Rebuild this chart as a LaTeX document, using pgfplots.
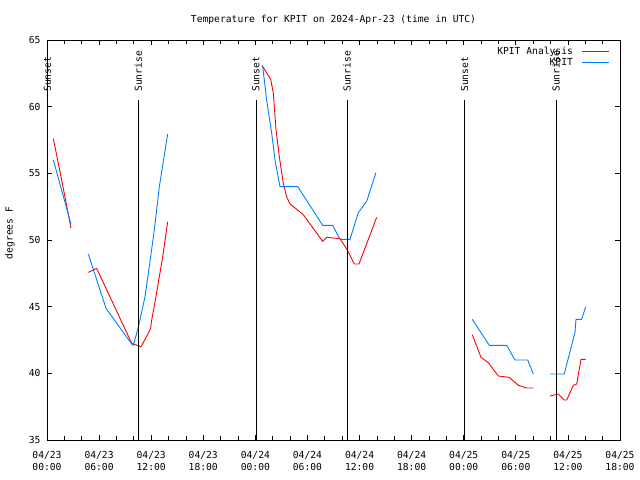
\documentclass[border=0pt]{standalone}
\usepackage{pgfplots}
\pgfplotsset{compat=1.18}
\usepackage{fontspec}
\setmainfont{DejaVu Sans Mono}
\definecolor{gred}{RGB}{255,0,0}
\definecolor{gblue}{RGB}{0,128,255}
\begin{document}
\begin{tikzpicture}[font=\fontsize{9.7}{12}\selectfont]
\useasboundingbox (0bp,0bp) rectangle (640bp,480bp);
\node at (333.5bp,460bp) {Temperature for KPIT on 2024-Apr-23 (time in UTC)};
\node[rotate=90] at (10bp,247bp) {degrees F};
\begin{axis}[
  at={(47bp,40bp)}, anchor=south west, scale only axis,
  width=573bp, height=400bp,
  xmin=0, xmax=66, ymin=35, ymax=65,
  xtick={0,6,...,66},
  xticklabels={{04/23\\00:00},{04/23\\06:00},{04/23\\12:00},{04/23\\18:00},{04/24\\00:00},{04/24\\06:00},{04/24\\12:00},{04/24\\18:00},{04/25\\00:00},{04/25\\06:00},{04/25\\12:00},{04/25\\18:00}},
  xticklabel style={align=center, font=\fontsize{9.7}{12}\selectfont, yshift=-8bp},
  yticklabel style={xshift=-3bp},
  minor x tick num=2,
  ytick={35,40,...,65},
  /pgf/number format/assume math mode=true,
  major tick length=5bp, minor tick length=4bp,
  tick style={black, line width=0.8bp},
  axis line style={line width=0.8bp},
  unbounded coords=jump,
  clip mode=individual,
  legend style={draw=none, fill=none, at={(1,1)}, anchor=north east,
    xshift=-7bp, yshift=-3bp, row sep=-2bp, font=\fontsize{9.7}{12}\selectfont},
  legend plot pos=right, legend cell align=right,
  legend image code/.code={\path (0bp,0bp); \draw[#1] (7bp,0bp) -- (34bp,0bp);},
]
\addplot[gred, line width=0.9bp] coordinates {
(0.73,57.6) (1.75,54.3) (2.76,50.9)
(3.7,nan)
(4.76,47.57) (5.72,47.87) (9.76,42.25) (10.14,42.17) (10.83,42.0) (11.67,43.0) (11.94,43.4) (12.06,44.0) (12.55,45.75) (13.33,48.75) (13.90,51.37)
(18,nan)
(24.76,63.1) (25.77,62.05) (26.07,61.0) (26.38,58.25) (26.76,56.25) (27.22,54.25) (27.6,53.25) (27.99,52.7) (29.52,51.9) (31.75,49.9) (32.22,50.2) (33.75,50.1) (34.59,49.25) (35.40,48.2) (35.94,48.2) (37.97,51.7)
(43,nan)
(48.99,42.9) (49.99,41.2) (50.83,40.8) (51.98,39.8) (53.25,39.7) (54.29,39.1) (55.25,38.9) (56.01,38.9)
(57,nan)
(57.93,38.3) (58.89,38.45) (59.58,38.0) (59.86,38.0) (60.62,39.1) (61.01,39.2) (61.51,41.05) (62.05,41.05)
};
\addlegendentry{KPIT Analysis}
\addplot[gblue, line width=0.9bp] coordinates {
(0.73,56.0) (2.76,51.2)
(3.7,nan)
(4.76,48.95) (6.80,44.87) (9.76,42.2) (9.94,42.1) (10.52,43.45) (11.29,45.75) (11.78,48.0) (12.36,50.75) (12.94,54.0) (13.90,57.95)
(18,nan)
(24.84,63.05) (25.3,60.5) (25.88,58.0) (26.26,56.0) (26.84,54.0) (28.88,54.0) (31.75,51.1) (32.91,51.1) (33.75,50.05) (34.90,50.05) (35.86,52.05) (36.82,52.9) (37.89,55.05)
(43,nan)
(48.99,44.05) (50.94,42.1) (52.95,42.1) (53.90,41.0) (55.37,41.0) (56.01,39.95)
(57,nan)
(57.93,39.95) (59.58,39.95) (60.82,43.1) (60.93,44.05) (61.59,44.05) (62.05,45.0)
};
\addlegendentry{KPIT}
\addplot[black, line width=0.9bp, forget plot] coordinates {(0.05,35) (0.05,60.5)};
\addplot[black, line width=0.9bp, forget plot] coordinates {(10.52,35) (10.52,60.5)};
\addplot[black, line width=0.9bp, forget plot] coordinates {(24.07,35) (24.07,60.5)};
\addplot[black, line width=0.9bp, forget plot] coordinates {(34.55,35) (34.55,60.5)};
\addplot[black, line width=0.9bp, forget plot] coordinates {(48.09,35) (48.09,60.5)};
\addplot[black, line width=0.9bp, forget plot] coordinates {(58.63,35) (58.63,60.5)};
\node[rotate=90, anchor=west, inner sep=0pt] at (axis cs:0.05,61.1) {Sunset};
\node[rotate=90, anchor=west, inner sep=0pt] at (axis cs:10.52,61.1) {Sunrise};
\node[rotate=90, anchor=west, inner sep=0pt] at (axis cs:24.07,61.1) {Sunset};
\node[rotate=90, anchor=west, inner sep=0pt] at (axis cs:34.55,61.1) {Sunrise};
\node[rotate=90, anchor=west, inner sep=0pt] at (axis cs:48.09,61.1) {Sunset};
\node[rotate=90, anchor=west, inner sep=0pt] at (axis cs:58.63,61.1) {Sunrise};
\end{axis}
\end{tikzpicture}
\end{document}
